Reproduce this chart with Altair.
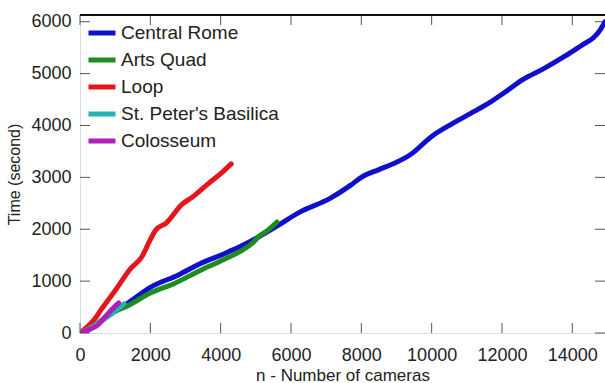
import altair as alt
import pandas as pd

series_names = ["Central Rome", "Arts Quad", "Loop", "St. Peter's Basilica", "Colosseum"]
series_colors = ["#1010cc", "#1e8c1e", "#e4161c", "#22b4b4", "#b01eb8"]

rome_x = [0, 400, 1000, 1330, 2000, 2800, 3400, 4000, 4600, 5100, 5600, 6250, 7100, 7700, 8000, 8500,
          9000, 9400, 10000, 10600, 11100, 11600, 12100, 12600, 13200, 13800, 14300, 14600, 14800, 14930]
rome_y = [0, 140, 420, 560, 880, 1120, 1330, 1500, 1680, 1860, 2060, 2330, 2590, 2850, 3000, 3150,
          3290, 3440, 3790, 4040, 4230, 4420, 4650, 4890, 5100, 5340, 5560, 5690, 5850, 6000]

arts_x = [0, 300, 850, 1400, 2000, 2700, 3400, 4000, 4600, 4900, 5100, 5300, 5600]
arts_y = [0, 100, 360, 540, 770, 960, 1200, 1390, 1590, 1730, 1870, 1960, 2140]

loop_x = [0, 450, 600, 1000, 1450, 1750, 2000, 2150, 2450, 2900, 3200, 3650, 4000, 4300]
loop_y = [0, 300, 450, 820, 1250, 1460, 1800, 1980, 2120, 2480, 2620, 2880, 3070, 3260]

peter_x = [0, 300, 700, 1000, 1250]
peter_y = [0, 100, 280, 420, 560]

colo_x = [0, 200, 500, 700, 900, 1100]
colo_y = [0, 50, 150, 300, 450, 580]

x_ticks = [0, 2000, 4000, 6000, 8000, 10000, 12000, 14000]
y_ticks = [0, 1000, 2000, 3000, 4000, 5000, 6000]

x_domain = [0, 14930]
y_domain = [0, 6130]

W, H = 525, 318

rows = []
for k, (name, xs, ys) in enumerate(zip(series_names,
                                       [rome_x, arts_x, loop_x, peter_x, colo_x],
                                       [rome_y, arts_y, loop_y, peter_y, colo_y])):
    for i, (a, b) in enumerate(zip(xs, ys)):
        rows.append({"series": name, "k": k, "i": i, "n": a, "t": b})
df = pd.DataFrame(rows)

FONT = "Liberation Sans"

xscale = alt.Scale(domain=x_domain, nice=False, zero=False)
yscale = alt.Scale(domain=y_domain, nice=False, zero=False)

lines = alt.Chart(df).mark_line(strokeWidth=5, clip=True, strokeJoin="round", strokeCap="round",
                                interpolate="monotone").encode(
    x=alt.X("n:Q", scale=xscale,
            axis=alt.Axis(values=x_ticks, ticks=False, domain=False, grid=False, format="d",
                          labelPadding=13, labelFontSize=18, labelColor="#222", labelFont=FONT,
                          title="n - Number of cameras", titleFontSize=17, titleFont=FONT,
                          titleFontWeight="normal", titleColor="#222", titlePadding=3,
                          labelFlush=False)),
    y=alt.Y("t:Q", scale=yscale,
            axis=alt.Axis(values=y_ticks, ticks=False, domain=False, grid=False, format="d",
                          labelPadding=9, labelFontSize=18, labelColor="#222", labelFont=FONT,
                          title="Time (second)", titleFontSize=16, titleFont=FONT,
                          titleFontWeight="normal", titleColor="#222", titlePadding=8,
                          labelFlush=False)),
    color=alt.Color("series:N", sort=series_names,
                    scale=alt.Scale(domain=series_names, range=series_colors),
                    legend=alt.Legend(orient="none", legendX=6, legendY=2, title=None,
                                      symbolType="stroke", symbolStrokeWidth=5, symbolSize=729,
                                      labelFontSize=19, labelFont=FONT, labelColor="#222",
                                      rowPadding=1, labelOffset=3)),
    detail="k:O",
    order="i:Q",
)

xt = pd.DataFrame({"v": x_ticks})
yt = pd.DataFrame({"v": y_ticks})

tick_style = dict(color="#555", strokeWidth=1)
xb = alt.Chart(xt).mark_rule(**tick_style).encode(
    x=alt.X("v:Q", scale=xscale), y=alt.value(H), y2=alt.value(H - 10))
xtop = alt.Chart(xt).mark_rule(**tick_style).encode(
    x=alt.X("v:Q", scale=xscale), y=alt.value(0), y2=alt.value(10))
yl = alt.Chart(yt).mark_rule(**tick_style).encode(
    y=alt.Y("v:Q", scale=yscale), x=alt.value(0), x2=alt.value(10))
yr = alt.Chart(yt).mark_rule(**tick_style).encode(
    y=alt.Y("v:Q", scale=yscale), x=alt.value(W), x2=alt.value(W - 10))
top_line = alt.Chart(xt).mark_rule(color="#111", strokeWidth=1.5).encode(
    x=alt.value(0), x2=alt.value(W), y=alt.value(0))

chart = alt.layer(xb, xtop, yl, yr, lines, top_line).properties(
    width=W, height=H,
    autosize=alt.AutoSizeParams(type="none"),
    padding={"left": 80, "top": 15, "right": 0, "bottom": 50},
).configure_view(stroke="#777", strokeWidth=1.5).configure(background="white")

chart.save("out.html", embed_options={"renderer": "svg", "actions": False})
